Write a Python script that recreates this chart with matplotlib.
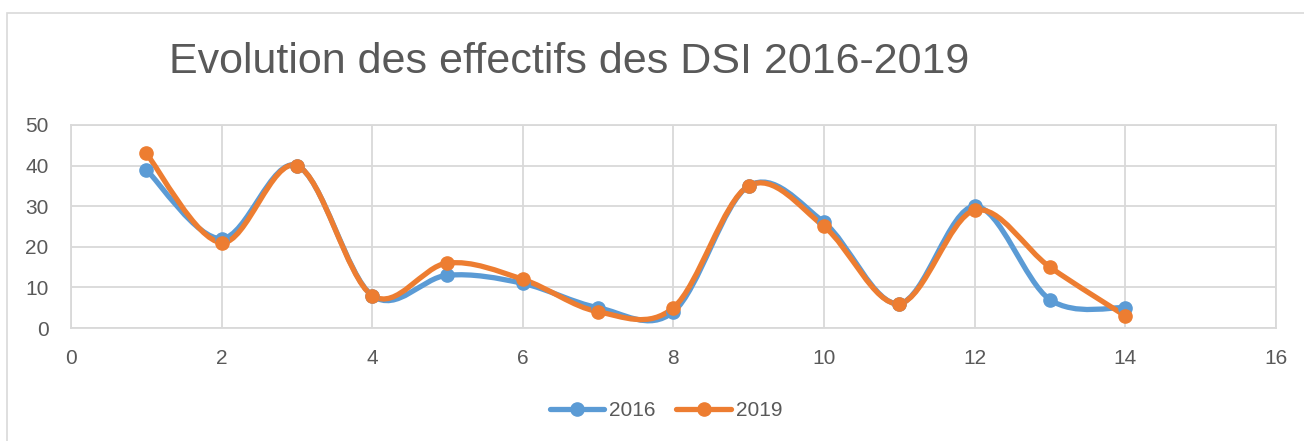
import numpy as np
import matplotlib
matplotlib.use("Agg")
import matplotlib.pyplot as plt
from matplotlib.path import Path
from matplotlib.patches import PathPatch, Rectangle
from matplotlib.lines import Line2D

## chart values
x_vals = [1, 2, 3, 4, 5, 6, 7, 8, 9, 10, 11, 12, 13, 14]
effectifs_2016 = [39, 22, 40, 8, 13, 11, 5, 4, 35, 26, 6, 30, 7, 5]
effectifs_2019 = [43, 21, 40, 8, 16, 12, 4, 5, 35, 25, 6, 29, 15, 3]
series_names = ["2016", "2019"]
title = "Evolution des effectifs des DSI 2016-2019"

blue = "#5B9BD5"
orange = "#ED7D31"
grey_txt = "#595959"
grid_col = "#D9D9D9"

plt.rcParams['font.family'] = ['Liberation Sans', 'DejaVu Sans']


##excel style smoothed line: bezier segments with catmull-rom control points
def smooth_path(xs, ys):
    pts = np.column_stack([xs, ys]).astype(float)
    n = len(pts)
    verts = [pts[0]]
    codes = [Path.MOVETO]
    for i in range(n - 1):
        p0 = pts[i - 1] if i > 0 else pts[i]
        p1 = pts[i]
        p2 = pts[i + 1]
        p3 = pts[i + 2] if i + 2 < n else pts[i + 1]
        c1 = p1 + (p2 - p0) / 6.0
        c2 = p2 - (p3 - p1) / 6.0
        verts += [c1, c2, p2]
        codes += [Path.CURVE4] * 3
    return Path(verts, codes)


fig = plt.figure(figsize=(13.04, 4.41), dpi=100)
ax = fig.add_axes([0.0544, 0.2562, 0.924, 0.4604])

for ys, col in [(effectifs_2016, blue), (effectifs_2019, orange)]:
    patch = PathPatch(smooth_path(x_vals, ys), facecolor='none', edgecolor=col,
                      lw=3.8, capstyle='round', joinstyle='round', zorder=3)
    ax.add_patch(patch)
    ax.plot(x_vals, ys, 'o', color=col, markersize=9.5, zorder=4)

ax.set_xlim(0, 16)
ax.set_ylim(0, 50)
ax.set_xticks(range(0, 17, 2))
ax.set_yticks(range(0, 51, 10))
ax.grid(True, color=grid_col, lw=1.3)
ax.set_axisbelow(True)
for s in ax.spines.values():
    s.set_color(grid_col)
    s.set_linewidth(1.3)
ax.tick_params(length=0, labelsize=15, colors=grey_txt)
ax.tick_params(axis='x', pad=15)
ax.tick_params(axis='y', pad=16)

##outer chart border
fig.patches.append(Rectangle((7 / 1304, -0.1), 1.2, 1.1 - 13 / 441, transform=fig.transFigure,
                             fill=False, edgecolor=grid_col, lw=1.2))

fig.text(569 / 1304, 1 - 73 / 441, title, ha='center', va='baseline',
         fontsize=31, color=grey_txt)

handles = [Line2D([0], [0], color=c, lw=3.8, marker='o', markersize=9.5,
                  solid_capstyle='round') for c in (blue, orange)]
fig.legend(handles, series_names, loc='center', bbox_to_anchor=(666 / 1304, 1 - 411 / 441),
           ncol=2, frameon=False, fontsize=15, labelcolor=grey_txt,
           handlelength=2.6, handletextpad=0.25, columnspacing=1.0)

fig.savefig("out.png", dpi=100)
